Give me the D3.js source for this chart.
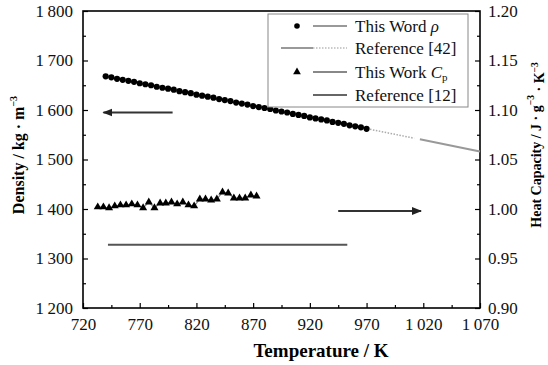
<!DOCTYPE html>
<html>
<head>
<meta charset="utf-8">
<script src="https://cdn.jsdelivr.net/npm/d3@7"></script>
<style>
  body { margin: 0; background: #fff; }
  svg text { font-family: "Liberation Serif", "Times New Roman", serif; }
</style>
</head>
<body>
<div id="chart"></div>
<script>
// density, this work
const rhoTemps = [740, 745, 750, 755, 760, 765, 770, 775, 780, 785, 790, 795, 800, 805, 810, 815, 820, 825, 830, 835,
  840, 845, 850, 855, 860, 865, 870, 875, 880, 885, 890, 895, 900, 905, 910, 915, 920, 925, 930, 935,
  940, 945, 950, 955, 960, 965, 970];
const rhoValues = [1668, 1666, 1663, 1661, 1659, 1657, 1654, 1652, 1650, 1647, 1645, 1643, 1641, 1638, 1636, 1634, 1631, 1629, 1627, 1625,
  1622, 1620, 1618, 1615, 1613, 1611, 1608, 1606, 1604, 1602, 1599, 1597, 1595, 1592, 1590, 1588, 1585, 1583, 1581, 1579,
  1576, 1574, 1572, 1569, 1567, 1565, 1562];

// density, reference [42]
const ref42DottedTemps = [973, 1012];
const ref42DottedValues = [1561, 1543];
const ref42SolidTemps = [1017, 1070];
const ref42SolidValues = [1541, 1516];

// heat capacity, this work
const cpTemps = [733, 738, 743, 748, 753, 758, 763, 768, 773, 778, 783, 788, 793, 798, 803, 808, 813, 818, 823, 828,
  833, 838, 843, 848, 853, 858, 863, 868, 873];
const cpValues = [1.002, 1.002, 1.001, 1.003, 1.004, 1.004, 1.005, 1.004, 1.001, 1.007, 1.001, 1.006, 1.006, 1.007, 1.005, 1.007, 1.004, 1.003, 1.010, 1.010,
  1.009, 1.010, 1.017, 1.016, 1.011, 1.011, 1.011, 1.014, 1.013];

// heat capacity, reference [12]
const ref12Temps = [742, 953];
const ref12Values = [0.964, 0.964];

// axis arrows
const leftArrowTemps = [799, 738];
const leftArrowValue = 1595;
const rightArrowTemps = [945, 1018];
const rightArrowValue = 0.998;

const xTicks = [720, 770, 820, 870, 920, 970, 1020, 1070];
const yLeftTicks = [1200, 1300, 1400, 1500, 1600, 1700, 1800];
const yRightTicks = [0.90, 0.95, 1.00, 1.05, 1.10, 1.15, 1.20];

const width = 548;
const height = 365;
const margin = { top: 11, right: 68, bottom: 57, left: 83 };

const svg = d3.select("#chart")
  .append("svg")
  .attr("width", width)
  .attr("height", height);

const x = d3.scaleLinear()
  .domain([720, 1070])
  .range([margin.left, width - margin.right]);

const yL = d3.scaleLinear()
  .domain([1200, 1800])
  .range([height - margin.bottom, margin.top]);

const yR = d3.scaleLinear()
  .domain([0.90, 1.20])
  .range([height - margin.bottom, margin.top]);

const thin = d => String(d).replace(/^(\d)(\d{3})$/, "$1\u2009$2");

// minor ticks (midpoints)
const mid = t => t.slice(1).map((v, i) => (v + t[i]) / 2);

function styleAxis(g) {
  g.select(".domain").remove();
  g.selectAll("line").attr("stroke", "#000").attr("stroke-width", 1.2);
  g.selectAll("text").attr("font-size", 17).attr("fill", "#111");
}

svg.append("g")
  .attr("transform", `translate(0,${height - margin.bottom})`)
  .call(d3.axisBottom(x).tickValues(xTicks).tickSize(-5).tickPadding(10).tickFormat(thin))
  .call(styleAxis);
svg.append("g")
  .attr("transform", `translate(0,${height - margin.bottom})`)
  .call(d3.axisBottom(x).tickValues(mid(xTicks)).tickSize(-3).tickFormat(""))
  .call(styleAxis);

svg.append("g")
  .attr("transform", `translate(${margin.left},0)`)
  .call(d3.axisLeft(yL).tickValues(yLeftTicks).tickSize(-5).tickPadding(10).tickFormat(thin))
  .call(styleAxis);
svg.append("g")
  .attr("transform", `translate(${margin.left},0)`)
  .call(d3.axisLeft(yL).tickValues(mid(yLeftTicks)).tickSize(-3).tickFormat(""))
  .call(styleAxis);

svg.append("g")
  .attr("transform", `translate(${width - margin.right},0)`)
  .call(d3.axisRight(yR).tickValues(yRightTicks).tickSize(-5).tickPadding(8).tickFormat(d3.format(".2f")))
  .call(styleAxis);
svg.append("g")
  .attr("transform", `translate(${width - margin.right},0)`)
  .call(d3.axisRight(yR).tickValues(mid(yRightTicks)).tickSize(-3).tickFormat(""))
  .call(styleAxis);

// frame
svg.append("rect")
  .attr("x", margin.left)
  .attr("y", margin.top)
  .attr("width", width - margin.left - margin.right)
  .attr("height", height - margin.top - margin.bottom)
  .attr("fill", "none")
  .attr("stroke", "#000")
  .attr("stroke-width", 1.6);

// arrowhead
svg.append("defs").append("marker")
  .attr("id", "arrow")
  .attr("viewBox", "0 0 10 10")
  .attr("refX", 9).attr("refY", 5)
  .attr("markerWidth", 5).attr("markerHeight", 5)
  .attr("orient", "auto")
  .append("path")
  .attr("d", "M0,1L10,5L0,9Z")
  .attr("fill", "#222");

svg.append("line")
  .attr("x1", x(leftArrowTemps[0])).attr("x2", x(leftArrowTemps[1]))
  .attr("y1", yL(leftArrowValue)).attr("y2", yL(leftArrowValue))
  .attr("stroke", "#333").attr("stroke-width", 2)
  .attr("marker-end", "url(#arrow)");
svg.append("line")
  .attr("x1", x(rightArrowTemps[0])).attr("x2", x(rightArrowTemps[1]))
  .attr("y1", yR(rightArrowValue)).attr("y2", yR(rightArrowValue))
  .attr("stroke", "#333").attr("stroke-width", 2)
  .attr("marker-end", "url(#arrow)");

// reference [12]
svg.append("path")
  .datum(ref12Temps.map((t, i) => [t, ref12Values[i]]))
  .attr("fill", "none")
  .attr("stroke", "#555")
  .attr("stroke-width", 2)
  .attr("d", d3.line().x(d => x(d[0])).y(d => yR(d[1])));

// reference [42]
svg.append("path")
  .datum(ref42DottedTemps.map((t, i) => [t, ref42DottedValues[i]]))
  .attr("fill", "none")
  .attr("stroke", "#aaa")
  .attr("stroke-width", 1.5)
  .attr("stroke-dasharray", "1.5,1.5")
  .attr("d", d3.line().x(d => x(d[0])).y(d => yL(d[1])));
svg.append("path")
  .datum(ref42SolidTemps.map((t, i) => [t, ref42SolidValues[i]]))
  .attr("fill", "none")
  .attr("stroke", "#999")
  .attr("stroke-width", 2)
  .attr("d", d3.line().x(d => x(d[0])).y(d => yL(d[1])));

// heat capacity, this work
const cpData = cpTemps.map((t, i) => [t, cpValues[i]]);
svg.append("path")
  .datum(cpData)
  .attr("fill", "none")
  .attr("stroke", "#888")
  .attr("stroke-width", 1.2)
  .attr("d", d3.line().x(d => x(d[0])).y(d => yR(d[1])));
svg.selectAll(".cp")
  .data(cpData)
  .join("path")
  .attr("class", "cp")
  .attr("transform", d => `translate(${x(d[0])},${yR(d[1])})`)
  .attr("d", d3.symbol(d3.symbolTriangle, 28))
  .attr("fill", "#000");

// density, this work
const rhoData = rhoTemps.map((t, i) => [t, rhoValues[i]]);
svg.append("path")
  .datum(rhoData)
  .attr("fill", "none")
  .attr("stroke", "#888")
  .attr("stroke-width", 1.2)
  .attr("d", d3.line().x(d => x(d[0])).y(d => yL(d[1])));
svg.selectAll(".rho")
  .data(rhoData)
  .join("circle")
  .attr("class", "rho")
  .attr("cx", d => x(d[0]))
  .attr("cy", d => yL(d[1]))
  .attr("r", 3.1)
  .attr("fill", "#000");

// legend
const lg = svg.append("g");
lg.append("rect")
  .attr("x", 268).attr("y", 14)
  .attr("width", 200).attr("height", 93)
  .attr("fill", "#fff")
  .attr("stroke", "#888")
  .attr("stroke-width", 1);

const rows = [26, 48, 72, 95];
lg.append("circle").attr("cx", 297).attr("cy", rows[0]).attr("r", 2.8).attr("fill", "#000");
lg.append("line").attr("x1", 313).attr("x2", 347).attr("y1", rows[0]).attr("y2", rows[0])
  .attr("stroke", "#999").attr("stroke-width", 2);
lg.append("line").attr("x1", 281).attr("x2", 313).attr("y1", rows[1]).attr("y2", rows[1])
  .attr("stroke", "#999").attr("stroke-width", 2);
lg.append("line").attr("x1", 313).attr("x2", 347).attr("y1", rows[1]).attr("y2", rows[1])
  .attr("stroke", "#bbb").attr("stroke-width", 1.5).attr("stroke-dasharray", "1.5,1.5");
lg.append("path").attr("transform", `translate(297,${rows[2]})`)
  .attr("d", d3.symbol(d3.symbolTriangle, 26)).attr("fill", "#000");
lg.append("line").attr("x1", 313).attr("x2", 347).attr("y1", rows[2]).attr("y2", rows[2])
  .attr("stroke", "#888").attr("stroke-width", 2);
lg.append("line").attr("x1", 313).attr("x2", 347).attr("y1", rows[3]).attr("y2", rows[3])
  .attr("stroke", "#666").attr("stroke-width", 2);

const lt = (y) => lg.append("text").attr("x", 355).attr("y", y).attr("dy", "0.35em")
  .attr("font-size", 17).attr("fill", "#111");
const t1 = lt(rows[0]);
t1.append("tspan").text("This Word ");
t1.append("tspan").attr("font-style", "italic").text("ρ");
lt(rows[1]).text("Reference [42]");
const t3 = lt(rows[2]);
t3.append("tspan").text("This Work ");
t3.append("tspan").attr("font-style", "italic").text("C");
t3.append("tspan").attr("font-size", 11).attr("dy", "0.3em").text("p");
lt(rows[3]).text("Reference [12]");

// axis titles
svg.append("text")
  .attr("x", 321)
  .attr("y", 357)
  .attr("text-anchor", "middle")
  .attr("font-size", 19)
  .attr("font-weight", "bold")
  .text("Temperature / K");

const lyt = svg.append("text")
  .attr("transform", `translate(24,155) rotate(-90)`)
  .attr("text-anchor", "middle")
  .attr("font-size", 16)
  .attr("font-weight", "bold");
lyt.append("tspan").text("Density / kg · m");
lyt.append("tspan").attr("font-size", 10).attr("dy", "-0.7em").text("−3");

const ryt = svg.append("text")
  .attr("transform", `translate(541,145) rotate(-90)`)
  .attr("text-anchor", "middle")
  .attr("font-size", 14)
  .attr("font-weight", "bold");
ryt.append("tspan").text("Heat Capacity / J · g");
ryt.append("tspan").attr("font-size", 9.5).attr("dy", "-0.7em").text("−3");
ryt.append("tspan").attr("dy", "0.7em").text(" · K");
ryt.append("tspan").attr("font-size", 9.5).attr("dy", "-0.7em").text("−3");
</script>
</body>
</html>
